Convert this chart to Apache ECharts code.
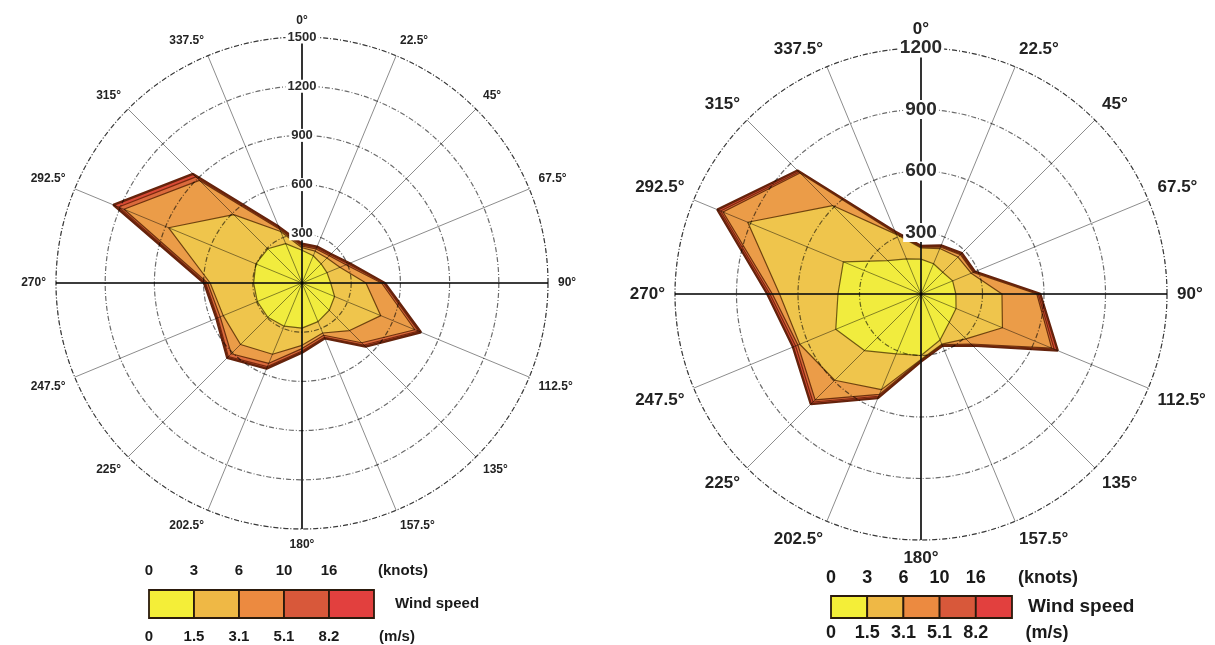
<!DOCTYPE html>
<html><head><meta charset="utf-8">
<script src="https://cdn.jsdelivr.net/npm/echarts@6/dist/echarts.min.js"></script>
<style>html,body{margin:0;padding:0;background:#fff;}#c{width:1215px;height:645px;}</style>
</head><body><div id="c"></div>
<script>
// Compass directions (degrees, clockwise from north)
const directions = [0,22.5,45,67.5,90,112.5,135,157.5,180,202.5,225,247.5,270,292.5,315,337.5];

// Left wind rose: cumulative frequency at the outer edge of each speed band
const leftBand1 = [200,180,165,165,175,215,235,255,275,285,295,295,295,305,295,260];
const leftBand2 = [215,210,215,250,390,520,410,330,380,470,530,520,560,880,590,340];
const leftBand3 = [225,225,235,290,485,745,515,345,400,530,610,540,575,1175,885,355];
const leftBand4 = [232,233,243,305,497,768,535,358,415,552,635,556,588,1210,915,365];
const leftBand5 = [240,240,250,315,505,785,548,365,425,565,645,565,597,1245,940,372];

// Right wind rose
const rightBand1 = [170,160,150,167,170,185,195,243,300,316,390,450,405,410,230,185];
const rightBand2 = [225,240,255,265,395,430,310,265,320,505,595,640,690,915,610,315];
const rightBand3 = [228,248,272,276,565,690,345,267,322,530,730,650,725,1045,835,320];
const rightBand4 = [231,252,276,280,572,703,350,270,326,540,745,662,737,1058,842,325];
const rightBand5 = [235,257,282,285,582,722,356,273,330,550,760,676,750,1075,852,330];

const leftMax = 1500, rightMax = 1200, ringStep = 300, dirStep = 22.5;
const knotTicks = ['0','3','6','10','16'];
const msTicks = ['0','1.5','3.1','5.1','8.2'];
const legendColors = ['#f4ee38','#efb845','#ec8a40','#d8583a','#e2403e'];
const bandFill = ['#f1ec3e','#efc54c','#eb9c48','#db6a3c','#d84a36'];
const bandEdge = ['rgba(70,50,0,0.75)','rgba(80,40,0,0.8)','rgba(90,35,5,0.85)','rgba(110,35,10,0.9)','#65230c'];

const LF = '"Liberation Sans Narrow","Liberation Sans",Arial,sans-serif';
const RF = '"Liberation Sans",Arial,sans-serif';
const dash = [5,2,1,2];

function bandSeries(bands, polarIndex) {
  const out = [];
  for (let b = bands.length - 1; b >= 0; b--) {
    const vals = bands[b];
    const data = directions.map((d, i) => [vals[i], d]);
    data.push([vals[0], 360]);
    out.push({
      type: 'line', coordinateSystem: 'polar', polarIndex: polarIndex,
      data: data, symbol: 'none', smooth: false, silent: true,
      z: 2 + (bands.length - b) * 0.1,
      lineStyle: { color: bandEdge[b], width: b === bands.length - 1 ? 2.4 : 1.2 },
      areaStyle: { color: bandFill[b], opacity: 1 }
    });
  }
  return out;
}

function mainAngle(polarIndex, font, size) {
  return {
    polarIndex: polarIndex, type: 'value', min: 0, max: 360, interval: dirStep,
    startAngle: 90, clockwise: true, z: 12,
    axisLine: { lineStyle: { color: 'rgba(0,0,0,0.5)', width: 1, type: dash } },
    axisTick: { show: false },
    splitLine: { lineStyle: { color: 'rgba(0,0,0,0.45)', width: 1 } },
    axisLabel: { margin: 10, color: '#222', fontWeight: 'bold', fontFamily: font, fontSize: size,
      formatter: v => (v >= 360 ? '' : v + '°') }
  };
}
function mainRadius(polarIndex, max, font, size) {
  return {
    polarIndex: polarIndex, type: 'value', min: 0, max: max, interval: ringStep, z: 13,
    axisLine: { show: false }, axisTick: { show: false },
    splitLine: { lineStyle: { color: 'rgba(0,0,0,0.58)', width: 1.2, type: dash } },
    axisLabel: { margin: 0, align: 'center', verticalAlign: 'middle', color: '#2a2a2a',
      fontWeight: 'bold', fontFamily: font, fontSize: size,
      backgroundColor: '#fff', padding: [0, 2],
      formatter: v => (v === 0 ? '' : String(v)) }
  };
}
function cardAngle(polarIndex) {
  return {
    polarIndex: polarIndex, type: 'value', min: 0, max: 360, interval: 90,
    startAngle: 90, clockwise: true, z: 11,
    axisLine: { show: false }, axisTick: { show: false }, axisLabel: { show: false },
    splitLine: { lineStyle: { color: '#151515', width: 1.6 } }
  };
}
function cardRadius(polarIndex) {
  return {
    polarIndex: polarIndex, type: 'value', min: 0, max: 1, z: 11,
    axisLine: { show: false }, axisTick: { show: false }, axisLabel: { show: false },
    splitLine: { show: false }
  };
}

function legend(x0, boxW, y, h, topY, botY, nameX, nameY, fontSize, wsSize, unitX1, unitX2) {
  const els = [];
  legendColors.forEach((c, i) => {
    els.push({ type: 'rect', shape: { x: x0 + i * boxW, y: y, width: boxW, height: h },
      style: { fill: c, stroke: '#2b1a0c', lineWidth: 1.8 }, z: 20 });
  });
  const font = 'bold ' + fontSize + 'px ' + RF;
  const txt = (t, x, yy, f, al) => ({ type: 'text', x: x, y: yy, z: 20,
      style: { text: t, font: f, fill: '#1a1a1a', align: al, verticalAlign: 'middle', textAlign: al, textVerticalAlign: 'middle' } });
  knotTicks.forEach((t, i) => els.push(txt(t, x0 + i * boxW, topY, font, 'center')));
  msTicks.forEach((t, i) => els.push(txt(t, x0 + i * boxW, botY, font, 'center')));
  els.push(txt('(knots)', unitX1, topY, font, 'center'));
  els.push(txt('(m/s)', unitX2, botY, font, 'center'));
  els.push(txt('Wind speed', nameX, nameY, 'bold ' + wsSize + 'px ' + RF, 'left'));
  return els;
}

const chart = echarts.init(document.getElementById('c'), null, { renderer: 'canvas' });
chart.setOption({
  animation: false,
  backgroundColor: '#fff',
  polar: [
    { center: [302, 283], radius: 246 },
    { center: [921, 294], radius: 246 },
    { center: [302, 283], radius: 246 },
    { center: [921, 294], radius: 246 }
  ],
  angleAxis: [
    mainAngle(0, LF, 12),
    mainAngle(1, RF, 17),
    cardAngle(2),
    cardAngle(3)
  ],
  radiusAxis: [
    mainRadius(0, leftMax, RF, 13),
    mainRadius(1, rightMax, RF, 19),
    cardRadius(2),
    cardRadius(3)
  ],
  series: [].concat(
    bandSeries([leftBand1, leftBand2, leftBand3, leftBand4, leftBand5], 0),
    bandSeries([rightBand1, rightBand2, rightBand3, rightBand4, rightBand5], 1)
  ),
  graphic: { elements: [].concat(
    legend(149, 45, 590, 28, 571, 637, 395, 604, 15, 15, 403, 397),
    legend(831, 36.2, 596, 22, 578, 633, 1028, 607, 18, 19, 1048, 1047)
  ) }
});
</script>
</body></html>
